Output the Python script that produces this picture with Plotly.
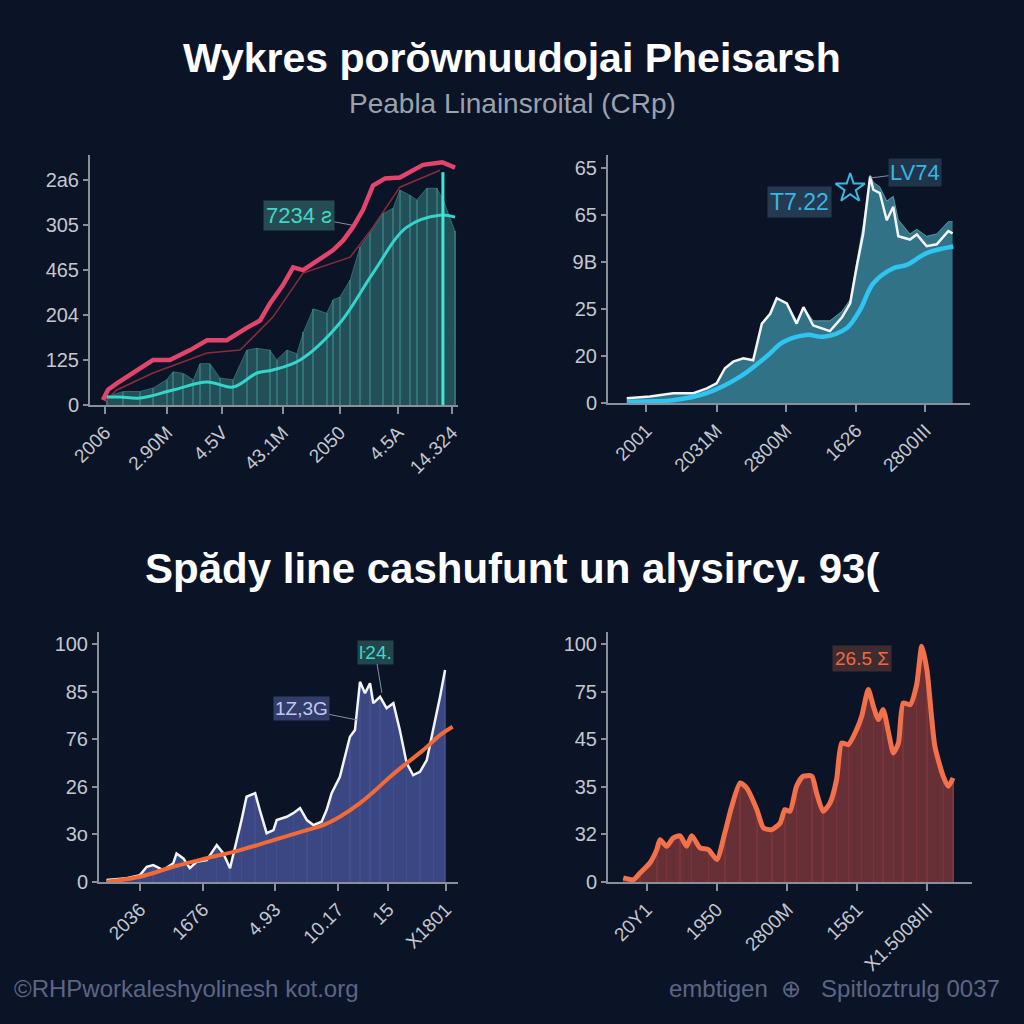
import plotly.graph_objects as go

BG = "#0b1427"
AXC = "#8a8f9a"
TICKC = "#c3c7d0"
FONT = "Liberation Sans, Arial, sans-serif"

# ---------------- Panel 1 (top-left) ----------------
p1_xticks = [4.1, 20.9, 35.9, 52.4, 67.9, 83.7, 98.4]
p1_xlabels = ["2006", "2.90M", "4.5V", "43.1M", "2050", "4.5A", "14.324"]
p1_yticks = [0, 50, 100, 150, 200, 250]
p1_ylabels = ["0", "125", "204", "465", "305", "2a6"]

p1_area_x = [4.5, 9, 13.6, 17.2, 20.8, 22.6, 25.4, 28.1, 29.9, 32.6, 35.3, 38.9, 42.6, 45.3,
             48.9, 50.7, 53.5, 56.2, 58, 60.7, 64.3, 66.1, 67.9, 70.7, 73.4, 76.1, 79.7, 82.4,
             84.2, 87, 88.8, 91.5, 94.2, 96, 99.2]
p1_area_y = [9, 15, 15, 19, 28, 37, 35, 28, 46, 46, 30, 28, 61, 63,
             61, 50, 61, 57, 81, 107, 102, 117, 120, 139, 176, 191, 213, 219,
             239, 233, 228, 241, 241, 228, 193]

p1_red_x = [3.5, 4.9, 7.3, 12.2, 17.1, 21.7, 27.2, 31.8, 37.2, 42.7, 46.2, 48.9, 52.4, 55.2,
            57.9, 62, 66, 68.8, 71.5, 74.2, 76.9, 80.2, 84.2, 90.5, 95.7, 99.2]
p1_red_y = [5.6, 17, 24, 37, 50, 50, 61, 72, 72, 86, 94, 113, 133, 153,
            150, 161, 172, 183, 198, 217, 244, 252, 253, 267, 270, 264]

p1_thin_x = [4.0, 7.3, 17.1, 31.8, 40.8, 49.7, 57.9, 70.7, 76.9, 84.2, 95.1]
p1_thin_y = [4.0, 16.7, 35.6, 57.8, 61.1, 97.8, 146.7, 164.4, 197.8, 242.2, 261.1]

p1_teal_x = [4.6, 8.2, 13.6, 22.6, 31.8, 38.9, 45.4, 49.7, 57.1, 67.9, 76.9, 86.1, 95.1, 99.2]
p1_teal_y = [8.9, 8.9, 7.8, 16.7, 25.6, 20.0, 35.6, 38.9, 50, 91.1, 146.7, 197.8, 211.1, 208.9]

p1_marker_x = 95.9
p1_marker_y = 258.9

# ---------------- Panel 2 (top-right) ----------------
p2_xticks = [10.6, 30.0, 49.2, 68.6, 87.7]
p2_xlabels = ["2001", "2031M", "2800M", "1626", "2800III"]
p2_yticks = [0, 10, 20, 30, 40, 50]
p2_ylabels = ["0", "20", "25", "9B", "65", "65"]

p2_white_x = [5.2, 11.6, 18, 23.6, 27.3, 30, 32.3, 34.6, 37.4, 40.1, 42.5, 44.8, 46.6, 49.4,
              52.1, 54, 56.7, 61.3, 64.6, 66.9, 68.7, 70.5, 72.4, 73.3, 75.1, 77, 78.8, 80.2,
              83.4, 85.3, 88, 90.8, 94, 95.2]
p2_white_y = [1.0, 1.4, 2.1, 2.1, 3.1, 4.2, 7.4, 8.8, 9.5, 9.1, 16.9, 19.0, 22.3, 21.2,
              16.9, 20.4, 16.5, 15.3, 18.2, 21.2, 29.0, 36.1, 48.2, 45.4, 44.7, 38.9, 41.8, 35.5,
              34.8, 35.9, 33.4, 33.8, 36.6, 36.1]
p2_area_y = [1.0, 1.4, 2.1, 2.1, 3.1, 4.2, 7.4, 8.8, 9.5, 9.1, 16.9, 19.0, 22.3, 21.2,
             17.5, 20.4, 17.5, 17.5, 19.5, 22.0, 30.0, 38.0, 48.5, 47.0, 46.0, 43.0, 44.0, 39.0,
             36.0, 37.0, 35.5, 36.0, 38.6, 38.6]

p2_cyan_x = [5.2, 18, 27.3, 36.5, 43.8, 48.4, 54.9, 59.5, 65.9, 69.6, 73.3, 78.8, 82.5, 88, 95.4]
p2_cyan_y = [0.3, 0.6, 2.1, 5.6, 9.9, 13.0, 14.5, 14.1, 15.9, 19.8, 25.5, 28.7, 29.4, 31.9, 33.3]

p2_star_x = [66.9]
p2_star_y = [45.7]

# ---------------- Panel 3 (bottom-left) ----------------
p3_xticks = [11.4, 29.0, 49.0, 66.6, 80.6, 96.6]
p3_xlabels = ["2036", "1676", "4.93", "10.17", "15", "X1801"]
p3_yticks = [0, 20, 40, 60, 80, 100]
p3_ylabels = ["0", "3o", "26", "76", "85", "100"]

p3_white_x = [2.1, 7.7, 11.4, 13.3, 15.1, 17.9, 20.7, 21.6, 23.5, 25.3, 27.2, 30, 32.8, 34.6,
              36.5, 38.4, 39.7, 41.1, 43.5, 44.8, 46.7, 48.6, 49.5, 52.3, 54.1, 56, 57.9, 59.7,
              62, 63.4, 64.8, 67.1, 69.9, 71.3, 72.7, 74.1, 75.5, 76.4, 78.3, 80.1, 82, 83.8,
              85.7, 87.5, 89.4, 91.3, 93.1, 95, 96.4]
p3_white_y = [0.8, 1.6, 2.9, 6.4, 7.1, 5.0, 7.9, 12.0, 9.9, 5.8, 8.5, 9.2, 15.5, 12.1,
              5.8, 17.6, 26.0, 35.8, 37.3, 30.2, 20.5, 21.8, 26.0, 27.4, 28.9, 31.0, 26.0, 23.9,
              25.3, 30.2, 37.3, 44.2, 61.0, 63.8, 84.1, 79.3, 83.5, 75.1, 77.8, 73.0, 75.1, 63.8,
              49.9, 44.9, 46.3, 51.2, 63.8, 77.8, 89.0]

p3_orange_x = [2.1, 11.4, 20.7, 30, 39.3, 48.6, 57.9, 62.5, 67.1, 72.7, 76.5, 81.1, 85.7, 90.3, 95, 98.5]
p3_orange_y = [0.1, 2.2, 6.4, 10, 13.4, 17.6, 21.8, 23.9, 27.4, 33.1, 37.9, 44.2, 49.9, 55.4, 61.7, 65.2]

# ---------------- Panel 4 (bottom-right) ----------------
p4_xticks = [10.6, 29.9, 49.3, 68.5, 87.6]
p4_xlabels = ["20Y1", "1950", "2800M", "1561", "X1.5008III"]
p4_yticks = [0, 20, 40, 60, 80, 100]
p4_ylabels = ["0", "32", "35", "45", "75", "100"]

p4_x = [4.2, 7.0, 8.8, 11.5, 13.4, 14.3, 16.1, 17.9, 19.8, 21.6, 23.0, 25.3, 27.6, 29.9,
        32.1, 34.0, 36.3, 38.1, 40.9, 42.7, 45.0, 47.3, 48.6, 50.0, 51.8, 53.6, 56.0, 57.3,
        59.1, 61.0, 62.8, 64.2, 66.0, 68.3, 69.7, 71.5, 72.9, 74.3, 75.6, 77.0, 78.4, 79.8,
        81.1, 83.0, 84.8, 86.2, 87.6, 89.8, 92.1, 93.5, 94.8]
p4_y = [1.7, 1.0, 3.8, 8.0, 13.6, 17.8, 15.0, 18.5, 19.4, 15.0, 19.4, 14.3, 13.6, 9.4,
        20.6, 31.8, 41.6, 39.5, 30.4, 22.7, 22.0, 24.8, 30.4, 29.7, 40.2, 44.4, 44.4, 37.4,
        29.7, 33.2, 43.0, 58.4, 57.7, 64.0, 69.6, 80.8, 73.8, 68.2, 72.4, 63.3, 54.2, 58.4,
        75.2, 74.5, 82.9, 99.0, 89.2, 57.0, 44.4, 40.2, 43.7]

fig = go.Figure()

# ---- panel 1 traces
fig.add_trace(go.Scatter(x=p1_area_x, y=p1_area_y, mode="lines", fill="tozeroy",
                         line=dict(color="rgba(70,140,140,0.6)", width=1),
                         fillcolor="rgba(52,118,122,0.6)", xaxis="x", yaxis="y"))
fig.add_trace(go.Bar(x=p1_area_x, y=p1_area_y, width=0.55,
                     marker=dict(color="rgba(80,200,190,0.5)", line=dict(width=0)),
                     xaxis="x", yaxis="y"))
fig.add_trace(go.Scatter(x=p1_thin_x, y=p1_thin_y, mode="lines", line=dict(color="#8a2c3c", width=1.5),
                         xaxis="x", yaxis="y"))
fig.add_trace(go.Scatter(x=p1_red_x, y=p1_red_y, mode="lines", line=dict(color="#e2456c", width=4.5),
                         xaxis="x", yaxis="y"))
fig.add_trace(go.Scatter(x=p1_teal_x, y=p1_teal_y, mode="lines", line=dict(color="#33d6c8", width=3, shape="spline"),
                         xaxis="x", yaxis="y"))
fig.add_trace(go.Scatter(x=[p1_marker_x, p1_marker_x], y=[0, p1_marker_y], mode="lines",
                         line=dict(color="#3ee8d6", width=3), xaxis="x", yaxis="y"))

# ---- panel 2 traces
fig.add_trace(go.Scatter(x=p2_white_x, y=p2_area_y, mode="lines", fill="tozeroy",
                         line=dict(color="rgba(140,200,210,0.6)", width=1),
                         fillcolor="rgba(58,130,152,0.85)", xaxis="x2", yaxis="y2"))
fig.add_trace(go.Scatter(x=p2_white_x, y=p2_white_y, mode="lines", line=dict(color="#f2f4f6", width=2.5),
                         xaxis="x2", yaxis="y2"))
fig.add_trace(go.Scatter(x=p2_cyan_x, y=p2_cyan_y, mode="lines", line=dict(color="#2ec5f0", width=4.5, shape="spline"),
                         xaxis="x2", yaxis="y2"))
fig.add_trace(go.Scatter(x=p2_star_x, y=p2_star_y, mode="markers",
                         marker=dict(symbol="star-open", size=22, color="#3ab8e0", line=dict(width=2, color="#3ab8e0")),
                         xaxis="x2", yaxis="y2"))

# ---- panel 3 traces
fig.add_trace(go.Scatter(x=p3_white_x, y=p3_white_y, mode="lines", fill="tozeroy",
                         line=dict(color="rgba(0,0,0,0)", width=0),
                         fillcolor="rgba(68,80,148,0.85)", xaxis="x3", yaxis="y3"))
fig.add_trace(go.Bar(x=p3_white_x[::2], y=p3_white_y[::2], width=0.4,
                     marker=dict(color="rgba(150,160,220,0.35)", line=dict(width=0)),
                     xaxis="x3", yaxis="y3"))
fig.add_trace(go.Scatter(x=p3_white_x, y=p3_white_y, mode="lines", line=dict(color="#f2f4f8", width=2.5),
                         xaxis="x3", yaxis="y3"))
fig.add_trace(go.Scatter(x=p3_orange_x, y=p3_orange_y, mode="lines", line=dict(color="#f26a36", width=4, shape="spline"),
                         xaxis="x3", yaxis="y3"))

# ---- panel 4 traces
fig.add_trace(go.Scatter(x=p4_x, y=p4_y, mode="lines", fill="tozeroy",
                         line=dict(color="rgba(0,0,0,0)", width=0),
                         fillcolor="rgba(120,52,58,0.85)", xaxis="x4", yaxis="y4"))
fig.add_trace(go.Bar(x=p4_x[::2], y=p4_y[::2], width=0.4,
                     marker=dict(color="rgba(225,95,85,0.55)", line=dict(width=0)),
                     xaxis="x4", yaxis="y4"))
fig.add_trace(go.Scatter(x=p4_x, y=p4_y, mode="lines", line=dict(color="#f3714a", width=5, shape="spline", smoothing=0.6),
                         xaxis="x4", yaxis="y4"))


def xax(domain, anchor, ticks, labels):
    return dict(domain=domain, anchor=anchor, range=[0, 100], showgrid=False, zeroline=False,
                showline=True, linecolor=AXC, linewidth=2, ticks="outside", ticklen=7, tickwidth=2,
                tickcolor=AXC, tickvals=ticks, ticktext=labels, tickangle=-45, automargin=False,
                tickfont=dict(family=FONT, size=19, color=TICKC), fixedrange=True)


def yax(domain, anchor, rng, ticks, labels):
    return dict(domain=domain, anchor=anchor, range=rng, showgrid=False, zeroline=False,
                showline=True, linecolor=AXC, linewidth=2, ticks="outside", ticklen=5, tickwidth=1.5,
                tickcolor=AXC, tickvals=ticks, ticktext=labels, automargin=False,
                tickfont=dict(family=FONT, size=20, color=TICKC), fixedrange=True)


def px(v):
    return v / 1024.0


fig.update_layout(
    width=1024, height=1024, autosize=False,
    margin=dict(l=0, r=0, t=0, b=0, pad=0, autoexpand=False),
    paper_bgcolor=BG, plot_bgcolor=BG,
    showlegend=False, barmode="overlay", bargap=0,
    xaxis=xax([px(90), px(458)], "y", p1_xticks, p1_xlabels),
    yaxis=yax([1 - px(405), 1 - px(155)], "x", [0, 278], p1_yticks, p1_ylabels),
    xaxis2=xax([px(608), px(970)], "y2", p2_xticks, p2_xlabels),
    yaxis2=yax([1 - px(403), 1 - px(155)], "x2", [0, 52.8], p2_yticks, p2_ylabels),
    xaxis3=xax([px(99), px(458)], "y3", p3_xticks, p3_xlabels),
    yaxis3=yax([1 - px(882), 1 - px(632)], "x3", [0, 105], p3_yticks, p3_ylabels),
    xaxis4=xax([px(608), px(972)], "y4", p4_xticks, p4_xlabels),
    yaxis4=yax([1 - px(882), 1 - px(632)], "x4", [0, 105], p4_yticks, p4_ylabels),
)

ann = []
# titles
ann.append(dict(text="<b>Wykres porŏwnuudojai Pheisarsh</b>", x=0.5, y=1 - px(58), xref="paper", yref="paper",
                showarrow=False, font=dict(family=FONT, size=41, color="#ffffff"), xanchor="center", yanchor="middle"))
ann.append(dict(text="Peabla Linainsroital (CRp)", x=0.5, y=1 - px(103), xref="paper", yref="paper",
                showarrow=False, font=dict(family=FONT, size=28, color="#9ba1ad"), xanchor="center", yanchor="middle"))
ann.append(dict(text="<b>Spădy line cashufunt un alysircy. 93(</b>", x=0.5, y=1 - px(568), xref="paper", yref="paper",
                showarrow=False, font=dict(family=FONT, size=42, color="#ffffff"), xanchor="center", yanchor="middle"))
# footers
ann.append(dict(text="©RHPworkaleshyolinesh kot.org", x=px(12), y=1 - px(988), xref="paper", yref="paper",
                showarrow=False, font=dict(family=FONT, size=24, color="#5d6585"), xanchor="left", yanchor="middle"))
ann.append(dict(text="embtigen\u00a0\u00a0⊕\u00a0\u00a0\u00a0Spitloztrulg 0037", x=px(1002), y=1 - px(988), xref="paper", yref="paper",
                showarrow=False, font=dict(family=FONT, size=24, color="#5d6585"), xanchor="right", yanchor="middle"))

# panel annotations
ann.append(dict(text="7234 ƨ", x=71.2, y=200, ax=56.8, ay=211, xref="x", yref="y", axref="x", ayref="y",
                showarrow=True, arrowhead=0, arrowwidth=1, arrowcolor="#8a8f9a",
                font=dict(family=FONT, size=22, color="#3fd8c8"), bgcolor="rgba(45,85,90,0.85)", borderpad=2))
ann.append(dict(text="T7.22", x=53, y=42.8, xref="x2", yref="y2", showarrow=False,
                font=dict(family=FONT, size=23, color="#35b6e4"), bgcolor="rgba(40,62,85,0.9)", borderpad=2))
ann.append(dict(text="LV74", x=72.4, y=47.9, ax=84.8, ay=49.1, xref="x2", yref="y2", axref="x2", ayref="y2",
                showarrow=True, arrowhead=0, arrowwidth=1, arrowcolor="#8a8f9a",
                font=dict(family=FONT, size=22, color="#35b6e4"), bgcolor="rgba(35,55,78,0.9)", borderpad=1))
ann.append(dict(text="··", x=84.0, y=54.2, xref="x2", yref="y2", showarrow=False,
                font=dict(family=FONT, size=12, color="#35b6e4")))
ann.append(dict(text="1Z,3G", x=72.1, y=68, ax=56.4, ay=72.7, xref="x3", yref="y3", axref="x3", ayref="y3",
                showarrow=True, arrowhead=0, arrowwidth=1, arrowcolor="#8a8f9a",
                font=dict(family=FONT, size=19, color="#c2c8ee"), bgcolor="rgba(55,65,115,0.9)", borderpad=1))
ann.append(dict(text="ŀ24.", x=78.8, y=79.4, ax=76.9, ay=96.6, xref="x3", yref="y3", axref="x3", ayref="y3",
                showarrow=True, arrowhead=0, arrowwidth=1, arrowcolor="#8a8f9a",
                font=dict(family=FONT, size=19, color="#3fd8c8"), bgcolor="rgba(35,75,80,0.9)", borderpad=1))
ann.append(dict(text="26.5 Σ", x=69.9, y=94, xref="x4", yref="y4", showarrow=False,
                font=dict(family=FONT, size=19, color="#f06a40"), bgcolor="rgba(70,45,50,0.9)", borderpad=2))

fig.update_layout(annotations=ann)

fig.write_html("out.html", config={"displayModeBar": False},
               post_script="document.body.style.margin='0';")
